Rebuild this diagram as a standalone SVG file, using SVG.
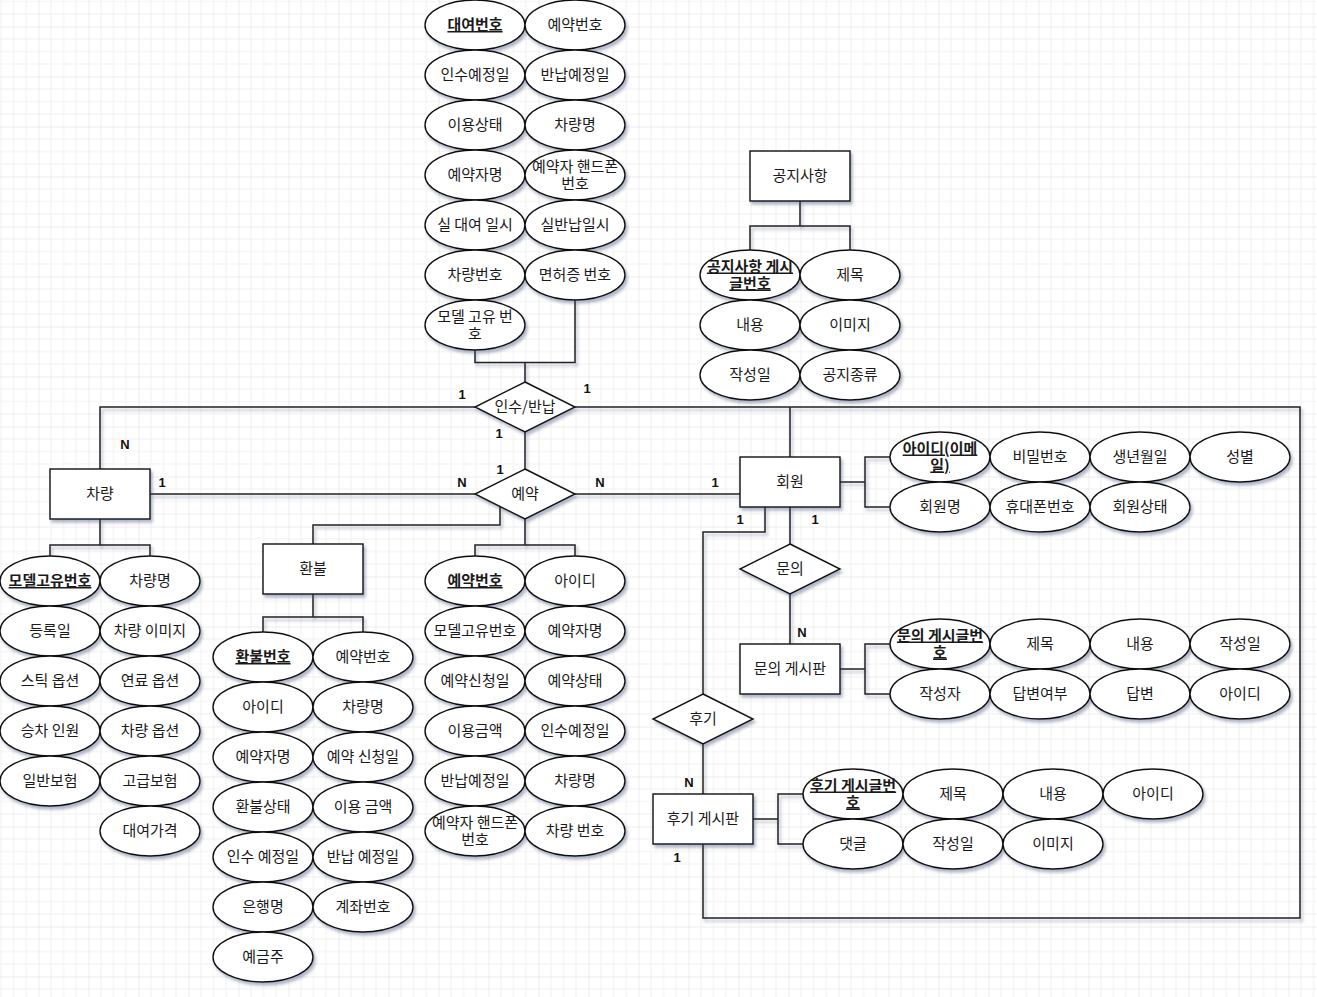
<svg xmlns="http://www.w3.org/2000/svg" width="1317" height="997" viewBox="0 0 1317 997">
<defs>
<pattern id="grid" width="50" height="50" patternUnits="userSpaceOnUse" x="38.5" y="26.5">
<path d="M12.5,0V50M25,0V50M37.5,0V50M0,12.5H50M0,25H50M0,37.5H50" stroke="#f1f1f1" stroke-width="1" fill="none"/>
<path d="M0,0V50M0,0H50" stroke="#dcdcdc" stroke-width="1" fill="none"/>
</pattern>
<filter id="sh" filterUnits="userSpaceOnUse" x="0" y="0" width="1317" height="997">
<feDropShadow dx="2" dy="3" stdDeviation="1.7" flood-color="#34406a" flood-opacity="0.38"/>
</filter>
</defs>
<style>
.ent{fill:#fff;stroke:#111;stroke-width:1.4;filter:url(#sh)}
.att{fill:#fff;stroke:#111;stroke-width:1.4;filter:url(#sh)}
.rel{fill:#fff;stroke:#111;stroke-width:1.4;filter:url(#sh)}
.t{font-family:"Noto Sans CJK KR","Noto Sans",sans-serif;font-size:15px;fill:#1a1a1a;text-anchor:middle}
.k{text-decoration:underline;font-weight:bold}
.c{font-family:"Liberation Sans",Arial,sans-serif;font-size:13px;font-weight:bold;fill:#111;text-anchor:middle}
.ln{fill:none;stroke:#222;stroke-width:1.5}
</style>
<rect width="1317" height="997" fill="#fff"/>
<rect width="1317" height="997" fill="url(#grid)"/>

<g id="connectors" filter="url(#sh)">
<path class="ln" d="M475,350V362.5H575V300M525,362.5V382"/>
<path class="ln" d="M475,407H100V469"/>
<path class="ln" d="M575,407H1300V918H703V844"/>
<path class="ln" d="M790,407V457"/>
<path class="ln" d="M525,432V469"/>
<path class="ln" d="M150,494H475"/>
<path class="ln" d="M575,494H740"/>
<path class="ln" d="M100,519V545M50,556V545H150V556"/>
<path class="ln" d="M500,506.5V525H313V544"/>
<path class="ln" d="M313,594V617M263,632V617H363V632"/>
<path class="ln" d="M525,519V545M475,556V545H575V556"/>
<path class="ln" d="M800,201V226M750,250V226H850V250"/>
<path class="ln" d="M840,482H865M890,457H865V507H890"/>
<path class="ln" d="M765,507V532H703V694"/>
<path class="ln" d="M703,744V794"/>
<path class="ln" d="M790,507V544M790,594V644"/>
<path class="ln" d="M840,669H865M890,644H865V694H890"/>
<path class="ln" d="M753,819H778M803,794H778V844H803"/>
</g>

<g id="cardinalities">
<text class="c" x="462" y="399">1</text>
<text class="c" x="587" y="393">1</text>
<text class="c" x="499" y="438">1</text>
<text class="c" x="500" y="474">1</text>
<text class="c" x="125" y="449">N</text>
<text class="c" x="162" y="487">1</text>
<text class="c" x="462" y="487">N</text>
<text class="c" x="600" y="487">N</text>
<text class="c" x="715" y="487">1</text>
<text class="c" x="740" y="524">1</text>
<text class="c" x="815" y="524">1</text>
<text class="c" x="802" y="637">N</text>
<text class="c" x="689" y="787">N</text>
<text class="c" x="677" y="862">1</text>
</g>

<!-- entities -->
<g id="e-car"><rect class="ent" x="50" y="469" width="100" height="50"/><text class="t" x="100" y="499">차량</text></g>
<g id="e-member"><rect class="ent" x="740" y="457" width="100" height="50"/><text class="t" x="790" y="487">회원</text></g>
<g id="e-refund"><rect class="ent" x="263" y="544" width="100" height="50"/><text class="t" x="313" y="574">환불</text></g>
<g id="e-notice"><rect class="ent" x="750" y="151" width="100" height="50"/><text class="t" x="800" y="181">공지사항</text></g>
<g id="e-inquiry"><rect class="ent" x="740" y="644" width="100" height="50"/><text class="t" x="790" y="674">문의 게시판</text></g>
<g id="e-review"><rect class="ent" x="653" y="794" width="100" height="50"/><text class="t" x="703" y="824">후기 게시판</text></g>

<!-- relationships -->
<g id="r-rental"><polygon class="rel" points="525,382 575,407 525,432 475,407"/><text class="t" x="525" y="412">인수/반납</text></g>
<g id="r-reserve"><polygon class="rel" points="525,469 575,494 525,519 475,494"/><text class="t" x="525" y="499">예약</text></g>
<g id="r-inquiry"><polygon class="rel" points="790,544 840,569 790,594 740,569"/><text class="t" x="790" y="574">문의</text></g>
<g id="r-review"><polygon class="rel" points="703,694 753,719 703,744 653,719"/><text class="t" x="703" y="724">후기</text></g>

<!-- rental attributes -->
<g id="ra1"><ellipse class="att" cx="475" cy="25" rx="50" ry="25"/><text class="t k" x="475" y="30">대여번호</text></g>
<g id="ra2"><ellipse class="att" cx="575" cy="25" rx="50" ry="25"/><text class="t" x="575" y="30">예약번호</text></g>
<g id="ra3"><ellipse class="att" cx="475" cy="75" rx="50" ry="25"/><text class="t" x="475" y="80">인수예정일</text></g>
<g id="ra4"><ellipse class="att" cx="575" cy="75" rx="50" ry="25"/><text class="t" x="575" y="80">반납예정일</text></g>
<g id="ra5"><ellipse class="att" cx="475" cy="125" rx="50" ry="25"/><text class="t" x="475" y="130">이용상태</text></g>
<g id="ra6"><ellipse class="att" cx="575" cy="125" rx="50" ry="25"/><text class="t" x="575" y="130">차량명</text></g>
<g id="ra7"><ellipse class="att" cx="475" cy="175" rx="50" ry="25"/><text class="t" x="475" y="180">예약자명</text></g>
<g id="ra8"><ellipse class="att" cx="575" cy="175" rx="50" ry="25"/><text class="t" x="575" y="171.5">예약자 핸드폰<tspan x="575" dy="17">번호</tspan></text></g>
<g id="ra9"><ellipse class="att" cx="475" cy="225" rx="50" ry="25"/><text class="t" x="475" y="230">실 대여 일시</text></g>
<g id="ra10"><ellipse class="att" cx="575" cy="225" rx="50" ry="25"/><text class="t" x="575" y="230">실반납일시</text></g>
<g id="ra11"><ellipse class="att" cx="475" cy="275" rx="50" ry="25"/><text class="t" x="475" y="280">차량번호</text></g>
<g id="ra12"><ellipse class="att" cx="575" cy="275" rx="50" ry="25"/><text class="t" x="575" y="280">면허증 번호</text></g>
<g id="ra13"><ellipse class="att" cx="475" cy="325" rx="50" ry="25"/><text class="t" x="475" y="321.5">모델 고유 번<tspan x="475" dy="17">호</tspan></text></g>

<!-- notice attributes -->
<g id="na1"><ellipse class="att" cx="750" cy="275" rx="50" ry="25"/><text class="t k" x="750" y="271.5">공지사항 게시<tspan x="750" dy="17">글번호</tspan></text></g>
<g id="na2"><ellipse class="att" cx="850" cy="275" rx="50" ry="25"/><text class="t" x="850" y="280">제목</text></g>
<g id="na3"><ellipse class="att" cx="750" cy="325" rx="50" ry="25"/><text class="t" x="750" y="330">내용</text></g>
<g id="na4"><ellipse class="att" cx="850" cy="325" rx="50" ry="25"/><text class="t" x="850" y="330">이미지</text></g>
<g id="na5"><ellipse class="att" cx="750" cy="375" rx="50" ry="25"/><text class="t" x="750" y="380">작성일</text></g>
<g id="na6"><ellipse class="att" cx="850" cy="375" rx="50" ry="25"/><text class="t" x="850" y="380">공지종류</text></g>

<!-- car attributes -->
<g id="ca1"><ellipse class="att" cx="50" cy="581" rx="50" ry="25"/><text class="t k" x="50" y="586">모델고유번호</text></g>
<g id="ca2"><ellipse class="att" cx="150" cy="581" rx="50" ry="25"/><text class="t" x="150" y="586">차량명</text></g>
<g id="ca3"><ellipse class="att" cx="50" cy="631" rx="50" ry="25"/><text class="t" x="50" y="636">등록일</text></g>
<g id="ca4"><ellipse class="att" cx="150" cy="631" rx="50" ry="25"/><text class="t" x="150" y="636">차량 이미지</text></g>
<g id="ca5"><ellipse class="att" cx="50" cy="681" rx="50" ry="25"/><text class="t" x="50" y="686">스틱 옵션</text></g>
<g id="ca6"><ellipse class="att" cx="150" cy="681" rx="50" ry="25"/><text class="t" x="150" y="686">연료 옵션</text></g>
<g id="ca7"><ellipse class="att" cx="50" cy="731" rx="50" ry="25"/><text class="t" x="50" y="736">승차 인원</text></g>
<g id="ca8"><ellipse class="att" cx="150" cy="731" rx="50" ry="25"/><text class="t" x="150" y="736">차량 옵션</text></g>
<g id="ca9"><ellipse class="att" cx="50" cy="781" rx="50" ry="25"/><text class="t" x="50" y="786">일반보험</text></g>
<g id="ca10"><ellipse class="att" cx="150" cy="781" rx="50" ry="25"/><text class="t" x="150" y="786">고급보험</text></g>
<g id="ca11"><ellipse class="att" cx="150" cy="831" rx="50" ry="25"/><text class="t" x="150" y="836">대여가격</text></g>

<!-- refund attributes -->
<g id="fa1"><ellipse class="att" cx="263" cy="657" rx="50" ry="25"/><text class="t k" x="263" y="662">환불번호</text></g>
<g id="fa2"><ellipse class="att" cx="363" cy="657" rx="50" ry="25"/><text class="t" x="363" y="662">예약번호</text></g>
<g id="fa3"><ellipse class="att" cx="263" cy="707" rx="50" ry="25"/><text class="t" x="263" y="712">아이디</text></g>
<g id="fa4"><ellipse class="att" cx="363" cy="707" rx="50" ry="25"/><text class="t" x="363" y="712">차량명</text></g>
<g id="fa5"><ellipse class="att" cx="263" cy="757" rx="50" ry="25"/><text class="t" x="263" y="762">예약자명</text></g>
<g id="fa6"><ellipse class="att" cx="363" cy="757" rx="50" ry="25"/><text class="t" x="363" y="762">예약 신청일</text></g>
<g id="fa7"><ellipse class="att" cx="263" cy="807" rx="50" ry="25"/><text class="t" x="263" y="812">환불상태</text></g>
<g id="fa8"><ellipse class="att" cx="363" cy="807" rx="50" ry="25"/><text class="t" x="363" y="812">이용 금액</text></g>
<g id="fa9"><ellipse class="att" cx="263" cy="857" rx="50" ry="25"/><text class="t" x="263" y="862">인수 예정일</text></g>
<g id="fa10"><ellipse class="att" cx="363" cy="857" rx="50" ry="25"/><text class="t" x="363" y="862">반납 예정일</text></g>
<g id="fa11"><ellipse class="att" cx="263" cy="907" rx="50" ry="25"/><text class="t" x="263" y="912">은행명</text></g>
<g id="fa12"><ellipse class="att" cx="363" cy="907" rx="50" ry="25"/><text class="t" x="363" y="912">계좌번호</text></g>
<g id="fa13"><ellipse class="att" cx="263" cy="957" rx="50" ry="25"/><text class="t" x="263" y="962">예금주</text></g>

<!-- reservation attributes -->
<g id="va1"><ellipse class="att" cx="475" cy="581" rx="50" ry="25"/><text class="t k" x="475" y="586">예약번호</text></g>
<g id="va2"><ellipse class="att" cx="575" cy="581" rx="50" ry="25"/><text class="t" x="575" y="586">아이디</text></g>
<g id="va3"><ellipse class="att" cx="475" cy="631" rx="50" ry="25"/><text class="t" x="475" y="636">모델고유번호</text></g>
<g id="va4"><ellipse class="att" cx="575" cy="631" rx="50" ry="25"/><text class="t" x="575" y="636">예약자명</text></g>
<g id="va5"><ellipse class="att" cx="475" cy="681" rx="50" ry="25"/><text class="t" x="475" y="686">예약신청일</text></g>
<g id="va6"><ellipse class="att" cx="575" cy="681" rx="50" ry="25"/><text class="t" x="575" y="686">예약상태</text></g>
<g id="va7"><ellipse class="att" cx="475" cy="731" rx="50" ry="25"/><text class="t" x="475" y="736">이용금액</text></g>
<g id="va8"><ellipse class="att" cx="575" cy="731" rx="50" ry="25"/><text class="t" x="575" y="736">인수예정일</text></g>
<g id="va9"><ellipse class="att" cx="475" cy="781" rx="50" ry="25"/><text class="t" x="475" y="786">반납예정일</text></g>
<g id="va10"><ellipse class="att" cx="575" cy="781" rx="50" ry="25"/><text class="t" x="575" y="786">차량명</text></g>
<g id="va11"><ellipse class="att" cx="475" cy="831" rx="50" ry="25"/><text class="t" x="475" y="827.5">예약자 핸드폰<tspan x="475" dy="17">번호</tspan></text></g>
<g id="va12"><ellipse class="att" cx="575" cy="831" rx="50" ry="25"/><text class="t" x="575" y="836">차량 번호</text></g>

<!-- member attributes -->
<g id="ma1"><ellipse class="att" cx="940" cy="457" rx="50" ry="25"/><text class="t k" x="940" y="453.5">아이디(이메<tspan x="940" dy="17">일)</tspan></text></g>
<g id="ma2"><ellipse class="att" cx="1040" cy="457" rx="50" ry="25"/><text class="t" x="1040" y="462">비밀번호</text></g>
<g id="ma3"><ellipse class="att" cx="1140" cy="457" rx="50" ry="25"/><text class="t" x="1140" y="462">생년월일</text></g>
<g id="ma4"><ellipse class="att" cx="1240" cy="457" rx="50" ry="25"/><text class="t" x="1240" y="462">성별</text></g>
<g id="ma5"><ellipse class="att" cx="940" cy="507" rx="50" ry="25"/><text class="t" x="940" y="512">회원명</text></g>
<g id="ma6"><ellipse class="att" cx="1040" cy="507" rx="50" ry="25"/><text class="t" x="1040" y="512">휴대폰번호</text></g>
<g id="ma7"><ellipse class="att" cx="1140" cy="507" rx="50" ry="25"/><text class="t" x="1140" y="512">회원상태</text></g>

<!-- inquiry attributes -->
<g id="qa1"><ellipse class="att" cx="940" cy="644" rx="50" ry="25"/><text class="t k" x="940" y="640.5">문의 게시글번<tspan x="940" dy="17">호</tspan></text></g>
<g id="qa2"><ellipse class="att" cx="1040" cy="644" rx="50" ry="25"/><text class="t" x="1040" y="649">제목</text></g>
<g id="qa3"><ellipse class="att" cx="1140" cy="644" rx="50" ry="25"/><text class="t" x="1140" y="649">내용</text></g>
<g id="qa4"><ellipse class="att" cx="1240" cy="644" rx="50" ry="25"/><text class="t" x="1240" y="649">작성일</text></g>
<g id="qa5"><ellipse class="att" cx="940" cy="694" rx="50" ry="25"/><text class="t" x="940" y="699">작성자</text></g>
<g id="qa6"><ellipse class="att" cx="1040" cy="694" rx="50" ry="25"/><text class="t" x="1040" y="699">답변여부</text></g>
<g id="qa7"><ellipse class="att" cx="1140" cy="694" rx="50" ry="25"/><text class="t" x="1140" y="699">답변</text></g>
<g id="qa8"><ellipse class="att" cx="1240" cy="694" rx="50" ry="25"/><text class="t" x="1240" y="699">아이디</text></g>

<!-- review attributes -->
<g id="wa1"><ellipse class="att" cx="853" cy="794" rx="50" ry="25"/><text class="t k" x="853" y="790.5">후기 게시글번<tspan x="853" dy="17">호</tspan></text></g>
<g id="wa2"><ellipse class="att" cx="953" cy="794" rx="50" ry="25"/><text class="t" x="953" y="799">제목</text></g>
<g id="wa3"><ellipse class="att" cx="1053" cy="794" rx="50" ry="25"/><text class="t" x="1053" y="799">내용</text></g>
<g id="wa4"><ellipse class="att" cx="1153" cy="794" rx="50" ry="25"/><text class="t" x="1153" y="799">아이디</text></g>
<g id="wa5"><ellipse class="att" cx="853" cy="844" rx="50" ry="25"/><text class="t" x="853" y="849">댓글</text></g>
<g id="wa6"><ellipse class="att" cx="953" cy="844" rx="50" ry="25"/><text class="t" x="953" y="849">작성일</text></g>
<g id="wa7"><ellipse class="att" cx="1053" cy="844" rx="50" ry="25"/><text class="t" x="1053" y="849">이미지</text></g>
</svg>
